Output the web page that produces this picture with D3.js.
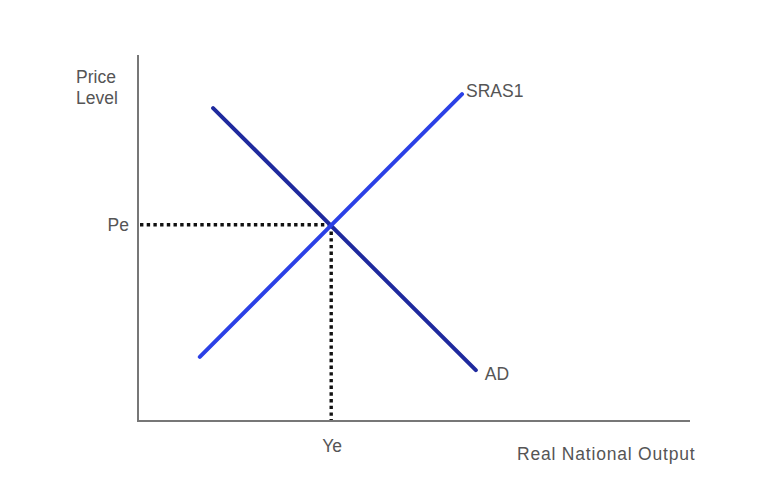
<!DOCTYPE html>
<html>
<head>
<meta charset="utf-8">
<script src="https://cdn.jsdelivr.net/npm/d3@7"></script>
<style>
  html, body { margin: 0; padding: 0; background: #fff; }
  svg text { font-family: "Liberation Sans", Arial, sans-serif; fill: #555; }
</style>
</head>
<body>
<svg id="chart" width="770" height="478"></svg>
<script>
// Data (abstract units 0-100)
const srasPoints = [[11.2, 17.5], [58.7, 89.3]];
const adPoints = [[13.6, 85.5], [61.2, 13.9]];
const equilibrium = [35.0, 53.6];
const curveLabels = ["SRAS1", "AD"];
const tickLabels = { x: "Ye", y: "Pe" };
const axisTitles = { x: "Real National Output", y: ["Price", "Level"] };

const svg = d3.select("#chart");
const x = d3.scaleLinear().domain([0, 100]).range([138, 690]);
const y = d3.scaleLinear().domain([0, 100]).range([421, 55]);

// Axes
svg.append("line").attr("x1", x(0)).attr("x2", x(0)).attr("y1", y(100)).attr("y2", y(0))
  .attr("stroke", "#777").attr("stroke-width", 2);
svg.append("line").attr("x1", x(0) - 1).attr("x2", x(100)).attr("y1", y(0)).attr("y2", y(0))
  .attr("stroke", "#777").attr("stroke-width", 2);

// Dotted guides
svg.append("line")
  .attr("x1", x(0) + 2).attr("x2", x(equilibrium[0])).attr("y1", y(equilibrium[1])).attr("y2", y(equilibrium[1]))
  .attr("stroke", "#111").attr("stroke-width", 3.4).attr("stroke-dasharray", "3.4,3.3");
svg.append("line")
  .attr("x1", x(equilibrium[0])).attr("x2", x(equilibrium[0])).attr("y1", y(equilibrium[1])).attr("y2", y(0) - 1)
  .attr("stroke", "#111").attr("stroke-width", 3.4).attr("stroke-dasharray", "3.4,3.3");

const line = d3.line().x(d => x(d[0])).y(d => y(d[1]));

svg.append("path").datum(adPoints).attr("d", line)
  .attr("fill", "none").attr("stroke", "#1f2a9e").attr("stroke-width", 4).attr("stroke-linecap", "round");
svg.append("path").datum(srasPoints).attr("d", line)
  .attr("fill", "none").attr("stroke", "#2b40e6").attr("stroke-width", 4).attr("stroke-linecap", "round");

const fs = "17.5px";
// Curve labels
svg.append("text").attr("x", x(srasPoints[1][0]) + 4).attr("y", y(srasPoints[1][1]) + 3)
  .style("font-size", fs).text(curveLabels[0]);
svg.append("text").attr("x", x(adPoints[1][0]) + 9).attr("y", y(adPoints[1][1]) + 10)
  .style("font-size", fs).text(curveLabels[1]);

// Tick labels
svg.append("text").attr("x", x(0) - 9).attr("y", y(equilibrium[1]) + 6)
  .attr("text-anchor", "end").style("font-size", fs).text(tickLabels.y);
svg.append("text").attr("x", x(equilibrium[0]) + 1).attr("y", 452)
  .attr("text-anchor", "middle").style("font-size", fs).text(tickLabels.x);

// Axis titles
svg.append("text").attr("x", 517).attr("y", 460)
  .style("font-size", fs).style("letter-spacing", "0.8px").text(axisTitles.x);
svg.append("text").attr("x", 76).attr("y", 83).style("font-size", fs).text(axisTitles.y[0]);
svg.append("text").attr("x", 76).attr("y", 104).style("font-size", fs).text(axisTitles.y[1]);
</script>
</body>
</html>
